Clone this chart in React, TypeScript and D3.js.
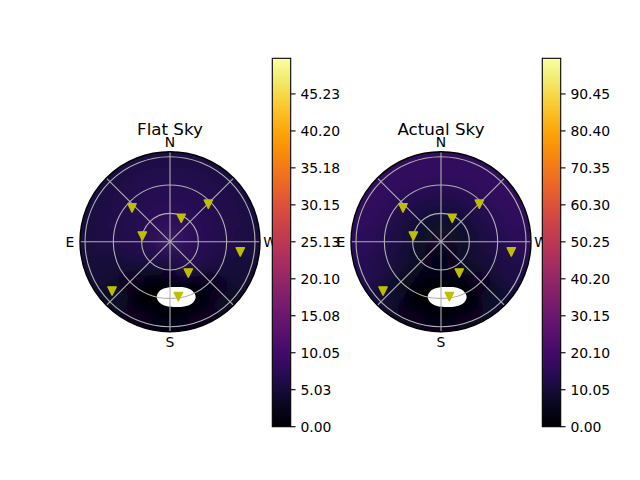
import React from 'react';
import * as d3 from 'd3';

// ---------- data ----------
const sectorAz = [0, 22.5, 45, 67.5, 90, 112.5, 135, 157.5, 180, 202.5, 225, 247.5, 270, 292.5, 315, 337.5];
const ringZenEdges = [0, 10, 20, 30, 40, 50, 60, 70, 80, 90, 100];

// Flat Sky values, one row per zenith ring, one column per azimuth sector
const flatSkyRings = [
  [7.8, 7.8, 7.8, 7.8, 7.8, 7.8, 7.8, 7.8, 7.8, 7.8, 7.8, 7.8, 7.8, 7.8, 7.8, 7.8],
  [7.8, 7.8, 7.8, 7.7, 7.6, 7.5, 7.3, 7.0, 6.8, 7.1, 7.4, 7.6, 7.7, 7.8, 7.8, 7.8],
  [7.8, 7.8, 7.7, 7.4, 7.2, 7.0, 6.5, 5.5, 5.0, 6.2, 7.3, 7.4, 7.5, 7.7, 7.8, 7.8],
  [7.5, 7.5, 7.3, 7.0, 6.8, 6.5, 5.3, 3.3, 2.8, 6.3, 7.8, 7.1, 7.1, 7.3, 7.5, 7.5],
  [7.2, 7.2, 7.0, 6.8, 6.5, 6.0, 3.8, 1.0, 0.6, 1.8, 4.6, 6.5, 6.8, 7.0, 7.2, 7.2],
  [7.0, 7.0, 6.8, 6.5, 6.3, 5.4, 2.8, 0.2, 0.2, 0.2, 2.6, 6.0, 6.5, 6.8, 7.0, 7.0],
  [6.8, 6.8, 6.6, 6.4, 6.0, 4.9, 2.4, 0.2, 0.2, 0.2, 2.2, 5.4, 6.3, 6.6, 6.8, 6.8],
  [6.5, 6.5, 6.4, 6.2, 5.8, 5.0, 3.0, 1.0, 0.7, 1.0, 2.9, 5.0, 6.0, 6.3, 6.5, 6.5],
  [6.2, 6.2, 6.0, 5.8, 5.5, 5.0, 3.8, 2.4, 1.9, 2.4, 3.7, 5.0, 5.6, 6.0, 6.2, 6.2],
  [5.5, 5.5, 5.3, 5.2, 5.0, 4.5, 3.5, 2.5, 2.0, 2.5, 3.5, 4.5, 5.0, 5.3, 5.5, 5.5],
];

// Actual Sky values
const actualSkyRings = [
  [5.0, 5.0, 5.0, 5.0, 5.0, 5.0, 5.0, 5.0, 5.0, 5.0, 5.0, 5.0, 5.0, 5.0, 5.0, 5.0],
  [6.5, 6.5, 6.3, 6.0, 6.0, 5.5, 5.0, 4.5, 4.5, 4.5, 5.0, 5.5, 6.0, 6.3, 6.5, 6.5],
  [8.5, 8.5, 8.2, 8.0, 7.5, 7.0, 6.0, 5.0, 4.5, 5.0, 6.0, 7.0, 7.5, 8.0, 8.5, 8.5],
  [10.5, 10.5, 10.2, 10.0, 9.5, 8.5, 7.0, 4.5, 3.5, 5.5, 7.5, 9.0, 9.5, 10.0, 10.5, 10.5],
  [12.5, 12.5, 12.0, 11.5, 11.0, 10.0, 7.0, 2.5, 1.5, 3.0, 6.5, 10.0, 11.0, 12.0, 12.5, 12.5],
  [14.0, 14.0, 13.5, 13.0, 12.5, 11.0, 6.5, 1.0, 1.0, 1.0, 5.5, 10.5, 12.5, 13.5, 14.0, 14.0],
  [15.5, 15.5, 15.0, 14.5, 14.0, 12.0, 7.0, 1.0, 1.0, 1.0, 5.5, 11.0, 13.5, 15.0, 15.5, 15.5],
  [16.5, 16.5, 16.0, 15.5, 15.0, 13.0, 8.5, 3.0, 2.0, 3.0, 7.0, 11.5, 14.5, 16.0, 16.5, 16.5],
  [17.0, 17.0, 17.0, 16.5, 16.0, 14.0, 10.0, 5.0, 4.0, 5.0, 8.5, 12.5, 15.0, 16.5, 17.0, 17.0],
  [16.0, 16.0, 16.0, 15.5, 15.0, 13.5, 10.0, 6.0, 5.0, 6.0, 8.5, 12.0, 14.5, 15.5, 16.0, 16.0],
];

// masked (out of range) region boundary, azimuth / zenith in degrees
const maskAz = [166.5, 168.4, 177.5, 187.5, 198.1, 204.3, 204.9, 199.6, 192.2, 185.2, 177.3, 170.7];
const maskZen = [60.2, 52.7, 48.5, 48.4, 51.0, 56.7, 64.6, 69.5, 70.2, 69.4, 68.5, 65.8];

// star markers
const starAz = [48.4, 314.4, 334.4, 78.4, 261.7, 210.3, 130.4, 188.6];
const starZen = [53.8, 56.8, 27.5, 29.9, 75.2, 38.4, 80.6, 58.9];

// grid and labels
const gridZen = [30, 60, 90];
const gridAz = [0, 45, 90, 135, 180, 225, 270, 315];
const cardinalNames = ['N', 'E', 'S', 'W'];
const cardinalAz = [0, 90, 180, 270];

// colorbars
const flatMax = 50.07;
const actualMax = 100.14;
const flatTicks = [0, 5.03, 10.05, 15.08, 20.1, 25.13, 30.15, 35.18, 40.2, 45.23];
const actualTicks = [0, 10.05, 20.1, 30.15, 40.2, 50.25, 60.3, 70.35, 80.4, 90.45];

// ---------- layout ----------
const W = 640;
const H = 480;
const R = 90;
const ZEN_MAX = 95.3;
const CY = 241.7;
const FONT = 'DejaVu Sans, sans-serif';
const rad = Math.PI / 180;

type PanelProps = {
  id: string;
  cx: number;
  title: string;
  rings: number[][];
  vmax: number;
  ticks: number[];
  cbX: number;
};

function Panel({ id, cx, title, rings, vmax, ticks, cbX }: PanelProps) {
  const r = d3.scaleLinear().domain([0, ZEN_MAX]).range([0, R]);
  const color = d3.scaleSequential(d3.interpolateInferno).domain([0, vmax]);
  const arc = d3.arc();
  const half = (sectorAz[1] - sectorAz[0]) / 2;
  const px = (az: number, zen: number) => cx - r(zen) * Math.sin(az * rad);
  const py = (az: number, zen: number) => CY - r(zen) * Math.cos(az * rad);

  const cells: React.ReactNode[] = [];
  rings.forEach((row, i) => {
    row.forEach((v, j) => {
      const az = sectorAz[j];
      const inner = i === 0 ? 0 : r(ringZenEdges[i]) - 0.5;
      const outer = i === rings.length - 1 ? R + 25 : r(ringZenEdges[i + 1]) + 0.5;
      const d = arc({
        innerRadius: inner,
        outerRadius: outer,
        startAngle: -(az + half + 0.5) * rad,
        endAngle: -(az - half - 0.5) * rad,
      } as any) as string;
      cells.push(<path key={`${i}-${j}`} d={d} fill={color(v)} />);
    });
  });

  const maskLine = d3
    .lineRadial<number>()
    .angle((_, i) => -maskAz[i] * rad)
    .radius((_, i) => r(maskZen[i]))
    .curve(d3.curveCatmullRomClosed.alpha(0.5));
  const maskPath = maskLine(maskAz) as string;

  const cbTop = 58.3;
  const cbBottom = 426.7;
  const cbW = 18.4;
  const cy = d3.scaleLinear().domain([0, vmax]).range([cbBottom, cbTop]);
  const stops = d3.range(0, 1.0001, 0.05);

  const s = 4.17;
  const tri = `M0,${s}L${-s},${-s}L${s},${-s}Z`;

  return (
    <g>
      <defs>
        <clipPath id={`clip-${id}`}>
          <circle cx={cx} cy={CY} r={R} />
        </clipPath>
        <filter id={`blur-${id}`} x="-20%" y="-20%" width="140%" height="140%">
          <feGaussianBlur stdDeviation={7} />
        </filter>
        <linearGradient id={`grad-${id}`} x1="0" y1="1" x2="0" y2="0">
          {stops.map((t) => (
            <stop key={t} offset={t} stopColor={d3.interpolateInferno(t)} />
          ))}
        </linearGradient>
      </defs>

      <g clipPath={`url(#clip-${id})`}>
        <g filter={`url(#blur-${id})`} transform={`translate(${cx},${CY})`}>
          {cells}
        </g>
        <path d={maskPath} transform={`translate(${cx},${CY})`} fill="#ffffff" />
      </g>

      {/* grid */}
      {gridZen.map((z) => (
        <circle key={z} cx={cx} cy={CY} r={r(z)} fill="none" stroke="#b0b0b0" strokeWidth={1.1} />
      ))}
      {gridAz.map((a) => (
        <line
          key={a}
          x1={cx}
          y1={CY}
          x2={cx - R * Math.sin(a * rad)}
          y2={CY - R * Math.cos(a * rad)}
          stroke="#b0b0b0"
          strokeWidth={1.1}
        />
      ))}
      <circle cx={cx} cy={CY} r={R} fill="none" stroke="#000" strokeWidth={1.4} />

      {/* stars */}
      {starAz.map((a, i) => (
        <path
          key={i}
          d={tri}
          transform={`translate(${px(a, starZen[i])},${py(a, starZen[i])})`}
          fill="#bfbf00"
          stroke="#bfbf00"
          strokeWidth={1.39}
          strokeLinejoin="round"
        />
      ))}

      {/* cardinal labels */}
      {cardinalNames.map((n, i) => {
        const a = cardinalAz[i];
        const x = cx - 100 * Math.sin(a * rad);
        const y = CY - 100 * Math.cos(a * rad);
        return (
          <text key={n} x={x} y={y + 5.05} textAnchor="middle" fontFamily={FONT} fontSize={13.9} fill="#000">
            {n}
          </text>
        );
      })}

      <text x={cx} y={135} textAnchor="middle" fontFamily={FONT} fontSize={16.7} fill="#000">
        {title}
      </text>

      {/* colorbar */}
      <rect x={cbX} y={cbTop} width={cbW} height={cbBottom - cbTop} fill={`url(#grad-${id})`} />
      <rect x={cbX} y={cbTop} width={cbW} height={cbBottom - cbTop} fill="none" stroke="#000" strokeWidth={1.1} />
      {ticks.map((t) => (
        <g key={t}>
          <line x1={cbX + cbW} x2={cbX + cbW + 4.86} y1={cy(t)} y2={cy(t)} stroke="#000" strokeWidth={1.1} />
          <text x={cbX + cbW + 9.7} y={cy(t) + 5.05} fontFamily={FONT} fontSize={13.9} fill="#000">
            {t.toFixed(2)}
          </text>
        </g>
      ))}
    </g>
  );
}

export default function App() {
  return (
    <svg
      width={W}
      height={H}
      viewBox={`0 0 ${W} ${H}`}
      style={{ position: 'absolute', left: 0, top: 0, background: '#fff' }}
    >
      <rect width={W} height={H} fill="#fff" />
      <Panel id="flat" cx={170} title="Flat Sky" rings={flatSkyRings} vmax={flatMax} ticks={flatTicks} cbX={272.3} />
      <Panel id="actual" cx={441} title="Actual Sky" rings={actualSkyRings} vmax={actualMax} ticks={actualTicks} cbX={542.3} />
    </svg>
  );
}
